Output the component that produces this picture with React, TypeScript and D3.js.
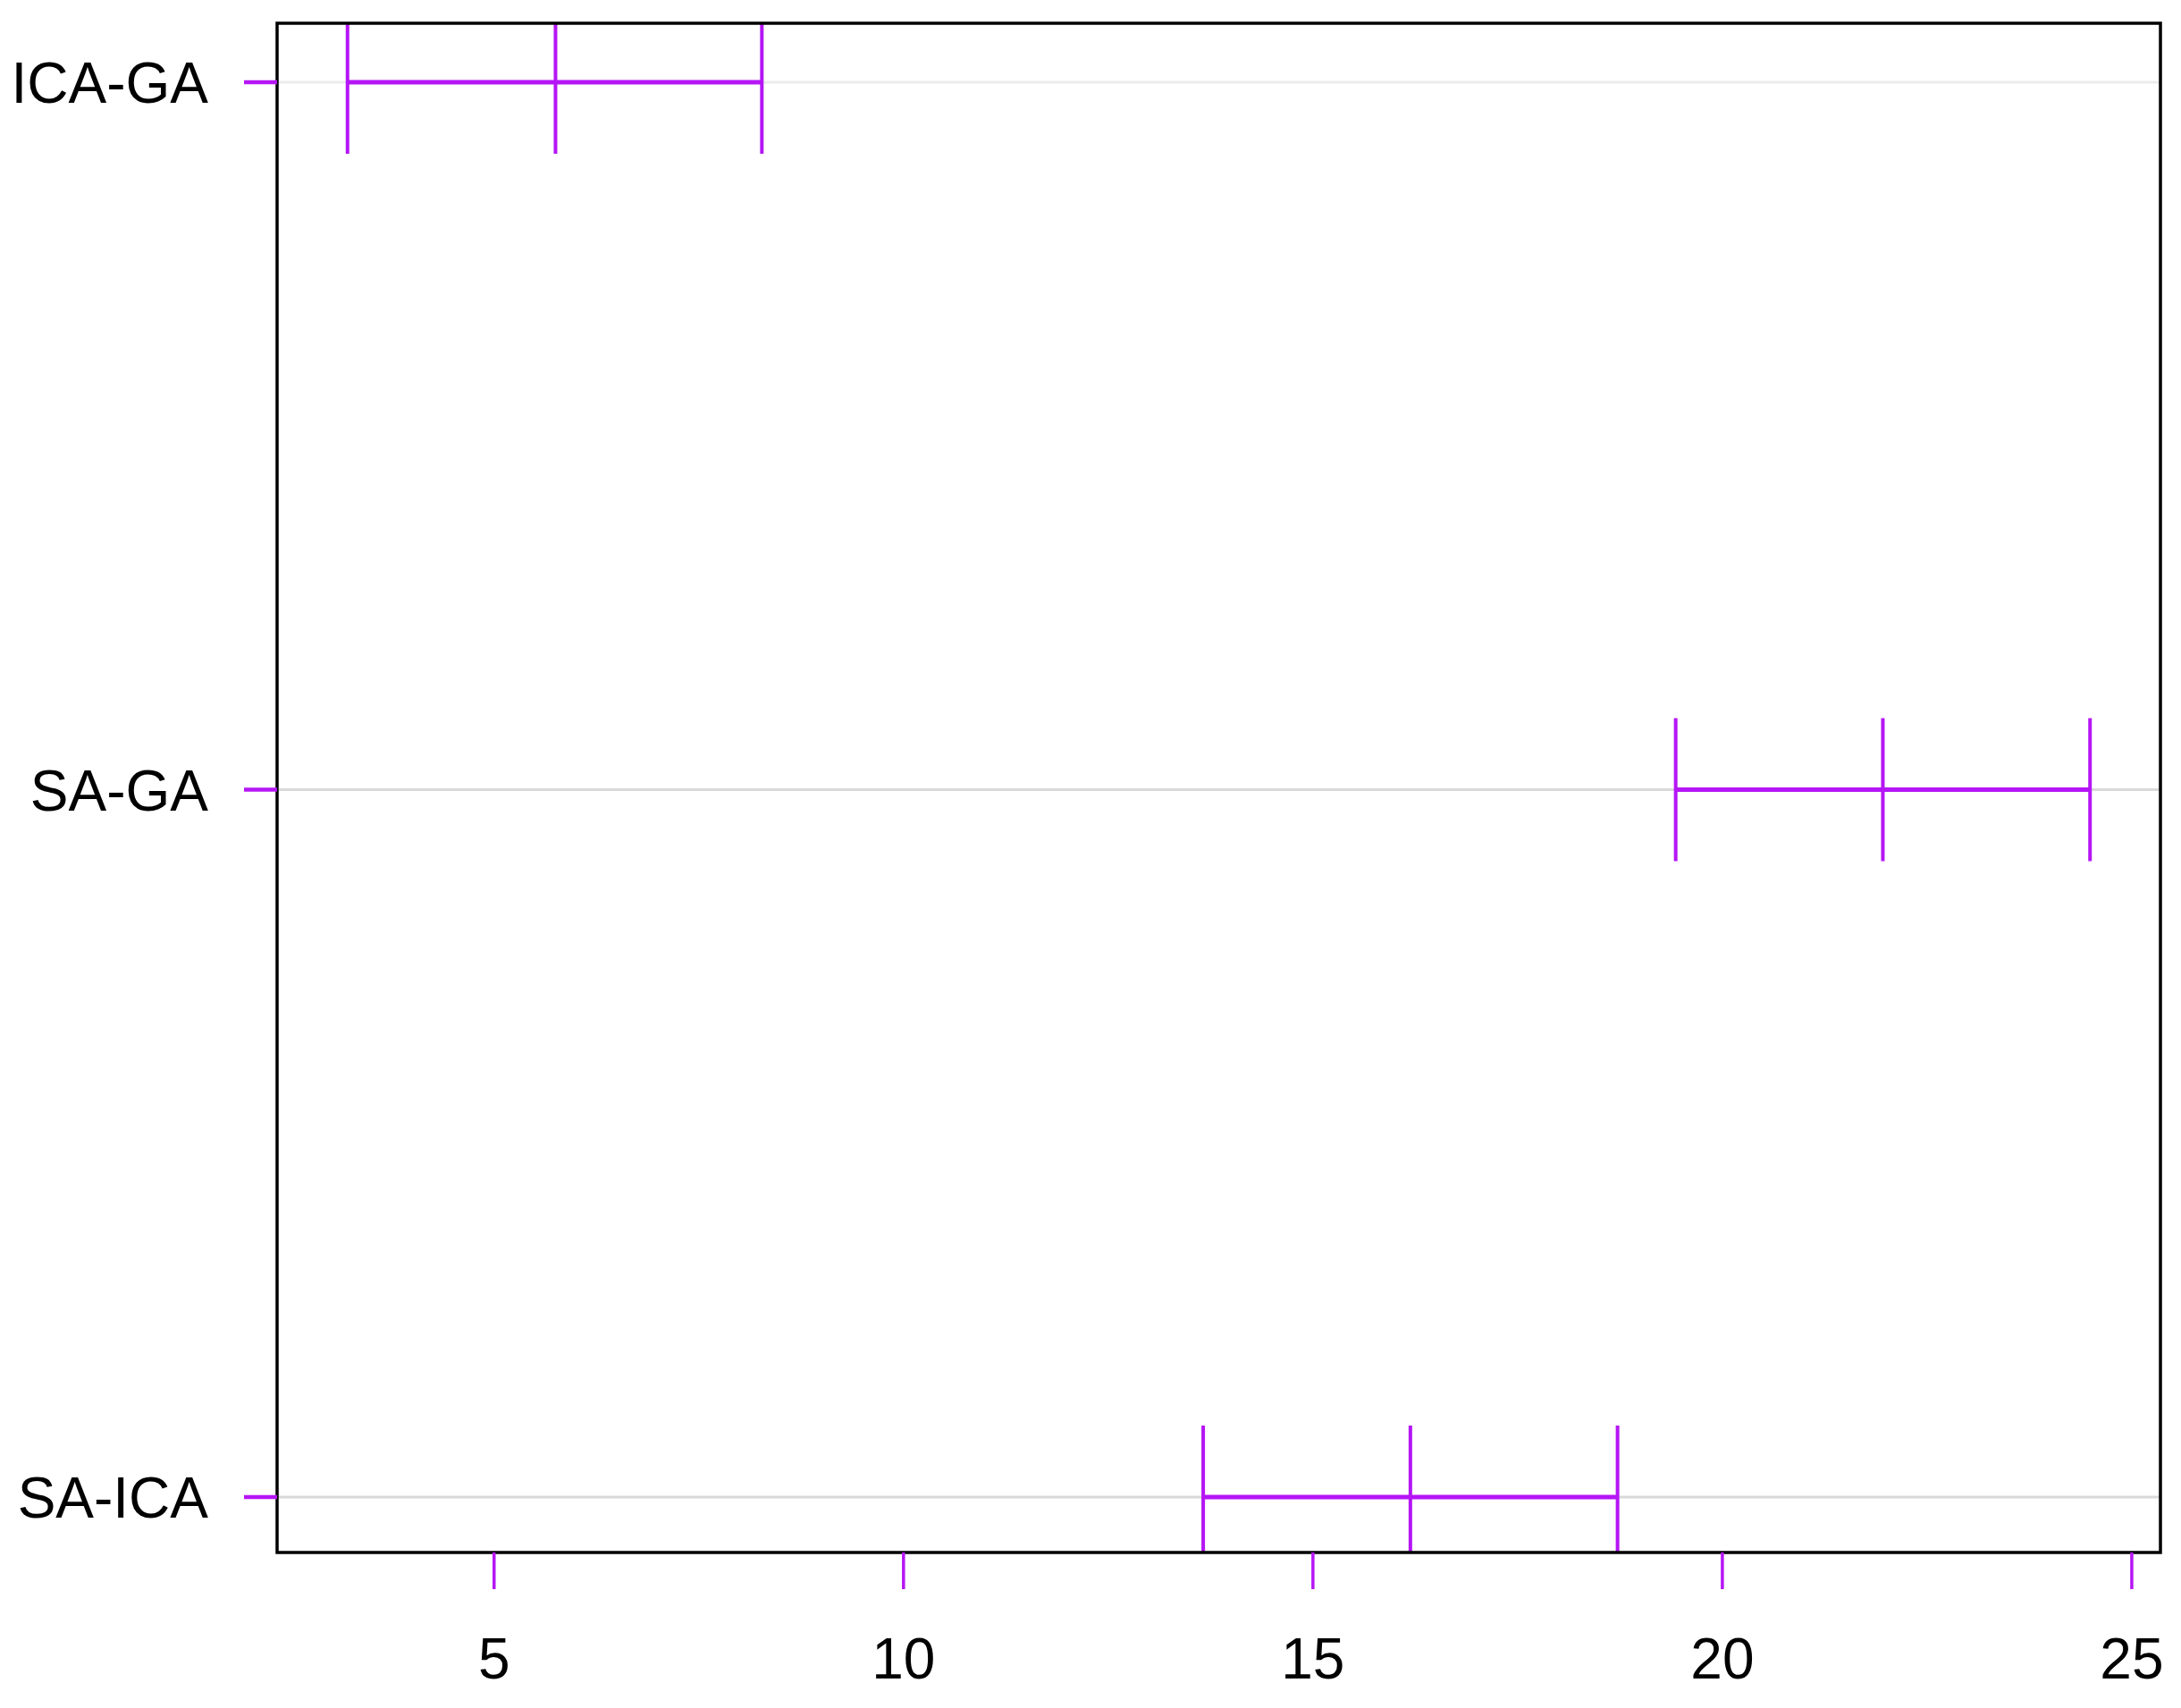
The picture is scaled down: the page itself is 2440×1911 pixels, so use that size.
import React from 'react'
import * as d3 from 'd3'

// comparisons, estimate and interval
const comparisons = ['ICA-GA', 'SA-GA', 'SA-ICA']
const lower = [3.21, 19.43, 13.66]
const estimate = [5.75, 21.96, 16.19]
const upper = [8.27, 24.49, 18.72]
const xTickValues = [5, 10, 15, 20, 25]

const width = 2440
const height = 1911
const marginLeft = 310
const marginRight = 23
const marginTop = 26
const marginBottom = 174

const purple = '#b516f5'
const font = 'Liberation Sans, Arial, sans-serif'

export default function App() {
  const x = d3.scaleLinear()
    .domain([2.35, 25.35])
    .range([marginLeft, width - marginRight])

  const y = d3.scaleLinear()
    .domain([-0.0834, comparisons.length - 1 + 0.0783])
    .range([marginTop, height - marginBottom])

  const left = x.range()[0]
  const right = x.range()[1]
  const top = y.range()[0]
  const bottom = y.range()[1]
  const capHalf = 80

  return (
    <svg width={width} height={height} style={{ position: 'absolute', left: 0, top: 0, background: '#fff' }}>
      <defs>
        <clipPath id="panel">
          <rect x={left} y={top} width={right - left} height={bottom - top} />
        </clipPath>
      </defs>

      {/* grid lines */}
      {comparisons.map((c, i) => (
        <line key={'g' + c} x1={left} x2={right} y1={y(i)} y2={y(i)}
          stroke={i == 0 ? '#ececec' : '#d9d9d9'} strokeWidth={3} />
      ))}

      {/* intervals */}
      <g clipPath="url(#panel)">
        {comparisons.map((c, i) => (
          <g key={'ci' + c} stroke={purple}>
            <line x1={x(lower[i])} x2={x(upper[i])} y1={y(i)} y2={y(i)} strokeWidth={5} />
            {[lower[i], estimate[i], upper[i]].map((v, j) => (
              <line key={j} x1={x(v)} x2={x(v)} y1={y(i) - capHalf} y2={y(i) + capHalf} strokeWidth={4} />
            ))}
          </g>
        ))}
      </g>

      {/* panel border */}
      <rect x={left} y={top} width={right - left} height={bottom - top}
        fill="none" stroke="#000" strokeWidth={3.5} />

      {/* y axis */}
      {comparisons.map((c, i) => (
        <g key={'y' + c}>
          <line x1={left - 37} x2={left} y1={y(i)} y2={y(i)} stroke={purple} strokeWidth={4.5} />
          <text x={233} y={y(i)} dy="0.36em" textAnchor="end"
            fontFamily={font} fontSize={64} fill="#000">{c}</text>
        </g>
      ))}

      {/* x axis */}
      {xTickValues.map(t => (
        <g key={'x' + t}>
          <line x1={x(t)} x2={x(t)} y1={bottom} y2={bottom + 41} stroke={purple} strokeWidth={3.5} />
          <text x={x(t)} y={1878} textAnchor="middle"
            fontFamily={font} fontSize={64} fill="#000">{t}</text>
        </g>
      ))}
    </svg>
  )
}
